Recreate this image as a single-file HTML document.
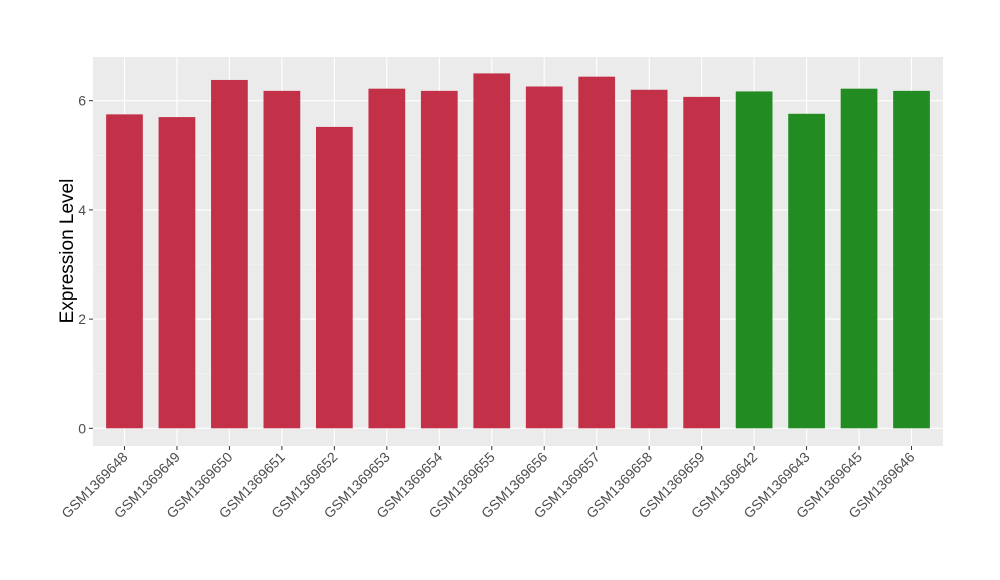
<!DOCTYPE html>
<html><head><meta charset="utf-8"><style>body{margin:0;background:#fff}svg{display:block;font-family:"Liberation Sans",Arial,sans-serif}</style></head>
<body>
<svg id="chart" width="1000" height="580" xmlns="http://www.w3.org/2000/svg">
<rect x="93" y="57" width="850" height="389" fill="#ebebeb"/>
<g id="grid"></g><g id="bars"></g><g id="axes"></g>
<text transform="translate(73,251) rotate(-90)" text-anchor="middle" font-size="19" fill="#000">Expression Level</text>
</svg>
<script>
const categories=["GSM1369648","GSM1369649","GSM1369650","GSM1369651","GSM1369652","GSM1369653","GSM1369654","GSM1369655","GSM1369656","GSM1369657","GSM1369658","GSM1369659","GSM1369642","GSM1369643","GSM1369645","GSM1369646"];
const values=[5.75,5.70,6.38,6.18,5.52,6.22,6.18,6.50,6.26,6.44,6.20,6.07,6.17,5.76,6.22,6.18];
const groups=["a","a","a","a","a","a","a","a","a","a","a","a","b","b","b","b"];
const yTicks=[0,2,4,6];
const NS="http://www.w3.org/2000/svg";
const L=93,R=943,T=57,B=446;
const band=(R-L)/(categories.length+0.2);
const xc=i=>L+band*(0.6+i);
const y=v=>428.3-v*54.6;
function mk(tag,attrs,parent){const e=document.createElementNS(NS,tag);for(const k in attrs)e.setAttribute(k,attrs[k]);document.getElementById(parent).appendChild(e);return e;}
yTicks.forEach((t,i)=>{
 const l=mk('line',{x1:L,x2:R,y1:y(t),y2:y(t),stroke:'#fff','stroke-width':1.1},'grid');
 
 
 if(i<yTicks.length-1){const m=mk('line',{x1:L,x2:R,y1:y(t+1),y2:y(t+1),stroke:'#f5f5f5','stroke-width':0.6},'grid');
 
 }
 const tk=mk('line',{x1:L-4,x2:L,y1:y(t),y2:y(t),stroke:'#333'},'axes');
 
 
 const tx=mk('text',{x:L-7,y:y(t)+5,'text-anchor':'end','font-size':14,fill:'#4d4d4d'},'axes');
 
 
 tx.textContent=t;
});
categories.forEach((c,i)=>{
 const x=xc(i);
 const g=mk('line',{x1:x,x2:x,y1:T,y2:B,stroke:'#fff','stroke-width':1.1},'grid');
 
 
 const w=band*0.7;
 const r=mk('rect',{x:x-w/2,y:y(values[i]),width:w,height:y(0)-y(values[i]),fill:groups[i]==='a'?'#c33149':'#228b22'},'bars');
 
 
 const tk=mk('line',{x1:x,x2:x,y1:B,y2:B+4,stroke:'#333'},'axes');
 
 
 const tx=mk('text',{transform:`translate(${x+4},${B+12}) rotate(-45)`,'text-anchor':'end','font-size':14,fill:'#4d4d4d'},'axes');
 
 
 tx.textContent=c;
});
</script>
</body></html>
